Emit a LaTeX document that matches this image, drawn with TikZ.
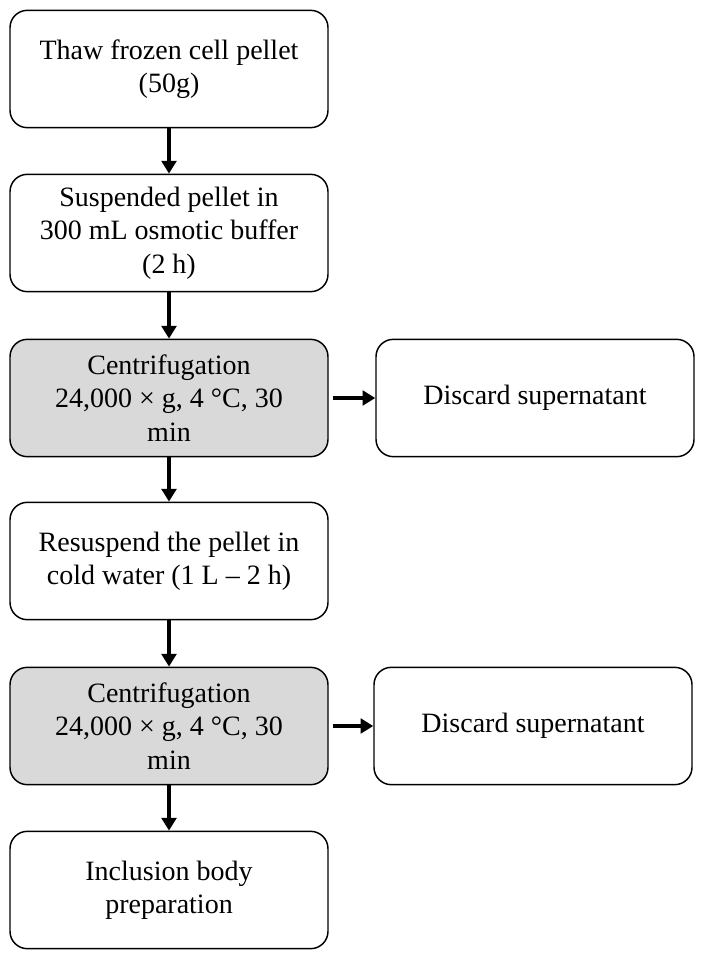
\documentclass[tikz,border=0pt]{standalone}
\usepackage{fontspec}
\setmainfont{Liberation Serif}
\usetikzlibrary{arrows.meta}
\definecolor{boxgray}{HTML}{D9D9D9}
\begin{document}
\begin{tikzpicture}[x=0.75pt,y=-0.75pt,
  stepbox/.style={draw, line width=1.1pt, rounded corners=13pt, minimum width=238.5pt, minimum height=88pt, align=center, font=\fontsize{21}{25}\selectfont, inner sep=0pt},
  graybox/.style={stepbox, fill=boxgray},
  flow/.style={line width=2.3pt, -{Triangle[length=9.5pt,width=11pt]}}]
\useasboundingbox (0,0) rectangle (705,960);
\node[stepbox] (b1) at (169,69) {Thaw frozen cell pellet\\(50g)};
\node[stepbox] (b2) at (169,233) {Suspended pellet in\\300 mL osmotic buffer\\(2 h)};
\node[graybox] (b3) at (169,398) {Centrifugation\\24,000 × g, 4 °C, 30\\min};
\node[stepbox] (r1) at (535,398) {Discard supernatant};
\node[stepbox] (b4) at (169,561) {Resuspend the pellet in\\cold water (1 L – 2 h)};
\node[graybox] (b5) at (169,726) {Centrifugation\\24,000 × g, 4 °C, 30\\min};
\node[stepbox] (r2) at (533,726) {Discard supernatant};
\node[stepbox] (b6) at (169,890) {Inclusion body\\preparation};
\draw[flow] (b1) -- (b2);
\draw[flow] (b2) -- (b3);
\draw[flow] (b3) -- (b4);
\draw[flow] (b4) -- (b5);
\draw[flow] (b5) -- (b6);
\draw[flow, shorten <=3pt] (b3) -- (r1);
\draw[flow, shorten <=3pt] (b5) -- (r2);
\end{tikzpicture}
\end{document}
